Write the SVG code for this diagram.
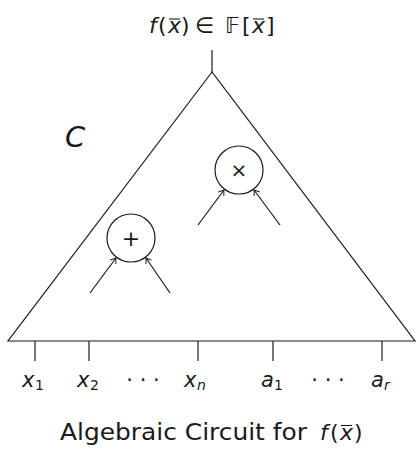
<svg xmlns="http://www.w3.org/2000/svg" width="416" height="450" viewBox="0 0 416 450">
<style>
.ln{stroke:#1a1a1a;stroke-width:1.2;fill:none}
.t{font-family:"DejaVu Sans","Liberation Sans",sans-serif;fill:#1a1a1a}
.i{font-style:italic}
.ol{stroke:#1a1a1a;stroke-width:1.1}
</style>
<defs>
<marker id="tip" markerUnits="userSpaceOnUse" markerWidth="12" markerHeight="12" refX="0" refY="0" viewBox="-6 -6 12 12" orient="auto">
<path d="M-5,-3.5 Q-1.5,-0.8 0,0 Q-1.5,0.8 -5,3.5" fill="none" stroke="#1a1a1a" stroke-width="1"/>
</marker>
</defs>
<rect width="416" height="450" fill="#fff"/>
<g id="output-label">
<text class="t" font-size="22" y="33"><tspan class="i" x="149">f</tspan><tspan x="158">(</tspan><tspan class="i" x="168">x</tspan><tspan x="181">)</tspan><tspan x="195">∈</tspan><tspan x="225">𝔽</tspan><tspan x="242">[</tspan><tspan class="i" x="252">x</tspan><tspan x="266">]</tspan></text>
<line class="ol" x1="169" y1="19" x2="180" y2="19"/>
<line class="ol" x1="253" y1="19" x2="264" y2="19"/>
</g>
<g id="circuit-C">
<polygon class="ln" points="212,72 8,341 415,341"/>
<text class="t i" font-size="29" x="65" y="147">C</text>
</g>
<g id="output-wire">
<line class="ln" x1="212" y1="50" x2="212" y2="72"/>
</g>
<g id="gate-times">
<circle class="ln" cx="239" cy="170" r="24"/>
<text class="t" font-size="20" x="239" y="177" text-anchor="middle">×</text>
</g>
<g id="gate-plus">
<circle class="ln" cx="131" cy="238" r="24"/>
<text class="t" font-size="22" x="131" y="246" text-anchor="middle">+</text>
</g>
<g id="connectors">
<line class="ln" x1="198" y1="225" x2="224" y2="190" marker-end="url(#tip)"/>
<line class="ln" x1="280" y1="225" x2="254" y2="190" marker-end="url(#tip)"/>
<line class="ln" x1="90" y1="293" x2="116" y2="258" marker-end="url(#tip)"/>
<line class="ln" x1="170" y1="293" x2="146" y2="258" marker-end="url(#tip)"/>
<line class="ln" x1="35" y1="341" x2="35" y2="361"/>
<line class="ln" x1="89" y1="341" x2="89" y2="361"/>
<line class="ln" x1="198" y1="341" x2="198" y2="361"/>
<line class="ln" x1="273" y1="341" x2="273" y2="361"/>
<line class="ln" x1="382" y1="341" x2="382" y2="361"/>
</g>
<g id="inputs">
<text class="t" font-size="21" y="387"><tspan class="i" x="22">x</tspan><tspan font-size="14" x="35" y="390">1</tspan></text>
<text class="t" font-size="21" y="387"><tspan class="i" x="77">x</tspan><tspan font-size="14" x="90" y="390">2</tspan></text>
<text class="t" font-size="21" x="143" y="387" text-anchor="middle">· · ·</text>
<text class="t" font-size="21" y="387"><tspan class="i" x="184">x</tspan><tspan class="i" font-size="14" x="197" y="390">n</tspan></text>
<text class="t" font-size="21" y="387"><tspan class="i" x="261">a</tspan><tspan font-size="14" x="274" y="390">1</tspan></text>
<text class="t" font-size="21" x="328" y="387" text-anchor="middle">· · ·</text>
<text class="t" font-size="21" y="387"><tspan class="i" x="371">a</tspan><tspan class="i" font-size="14" x="384" y="390">r</tspan></text>
</g>
<g id="caption">
<text class="t" font-size="23" x="60" y="440" textLength="247" lengthAdjust="spacingAndGlyphs">Algebraic Circuit for</text>
<text class="t" font-size="22" y="440"><tspan class="i" x="320">f</tspan><tspan x="330">(</tspan><tspan class="i" x="340">x</tspan><tspan x="354">)</tspan></text>
<line class="ol" x1="341" y1="425.5" x2="352" y2="425.5"/>
</g>
</svg>
